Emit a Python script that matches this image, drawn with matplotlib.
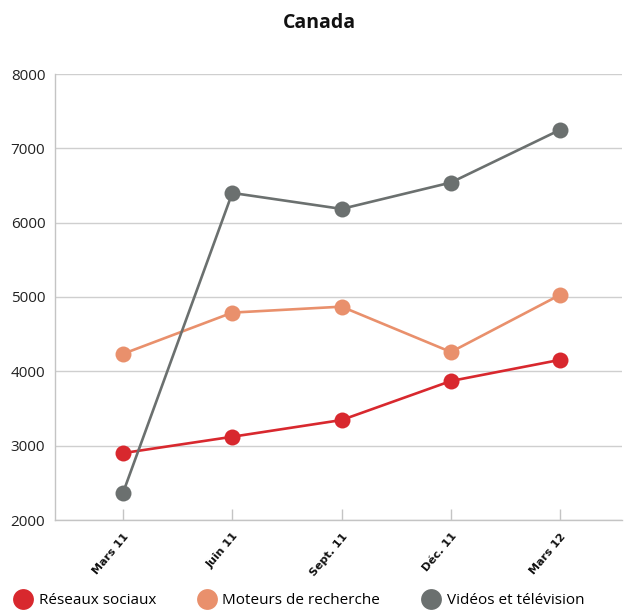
import matplotlib
matplotlib.use("Agg")
import matplotlib.pyplot as plt
from matplotlib.lines import Line2D

plt.rcParams["font.family"] = ["Open Sans", "DejaVu Sans"]

periods = ["Mars 11", "Juin 11", "Sept. 11", "Déc. 11", "Mars 12"]
reseaux_sociaux = [2900, 3120, 3345, 3870, 4155]
moteurs_recherche = [4235, 4790, 4870, 4260, 5030]
videos_television = [2365, 6400, 6185, 6540, 7250]

series = [
    ("Réseaux sociaux", reseaux_sociaux, "#d8282e"),
    ("Moteurs de recherche", moteurs_recherche, "#e9906c"),
    ("Vidéos et télévision", videos_television, "#6b706f"),
]

fig = plt.figure(figsize=(6.26, 6.13), dpi=100)
ax = fig.add_axes([55 / 626, 1 - 520 / 613, (622 - 55) / 626, (520 - 74) / 613])

x = list(range(len(periods)))
for name, values, color in series:
    ax.plot(x, values, color=color, linewidth=1.9, marker="o", markersize=11.5,
            markeredgewidth=0, zorder=3, label=name)

ax.set_xlim(-0.622, 4.565)
ax.set_ylim(2000, 8000)
ax.set_yticks(range(2000, 8001, 1000))
ax.yaxis.grid(True, color="#cfcfcf", linewidth=1.0)
ax.set_axisbelow(True)

for side in ("top", "right"):
    ax.spines[side].set_visible(False)
for side in ("left", "bottom"):
    ax.spines[side].set_color("#c4c4c4")
    ax.spines[side].set_linewidth(1.0)

ax.tick_params(axis="y", length=0, pad=7, labelsize=11, labelcolor="#222222")
ax.set_xticks(x)
ax.set_xticklabels(periods, rotation=50, ha="right", rotation_mode="anchor",
                   fontsize=8, fontweight="bold",
                   family=["Liberation Sans Narrow", "DejaVu Sans"])
ax.tick_params(axis="x", direction="in", length=8, width=1.0, color="#c4c4c4",
               pad=8, labelcolor="#111111")

fig.text(0.511, 0.963, "Canada", ha="center", va="center", fontsize=14,
         fontweight="bold", color="#111111")

handles = [Line2D([], [], linestyle="none", marker="o", markersize=15,
                  markeredgewidth=0, color=c) for _, _, c in series]
fig.legend(handles, [n for n, _, _ in series], loc="lower left",
           bbox_to_anchor=(0.003, -0.012), ncol=3, frameon=False, fontsize=11,
           handletextpad=0.4, columnspacing=2.75, handlelength=1.2,
           borderpad=0.3)

fig.savefig("out.png", dpi=100)
